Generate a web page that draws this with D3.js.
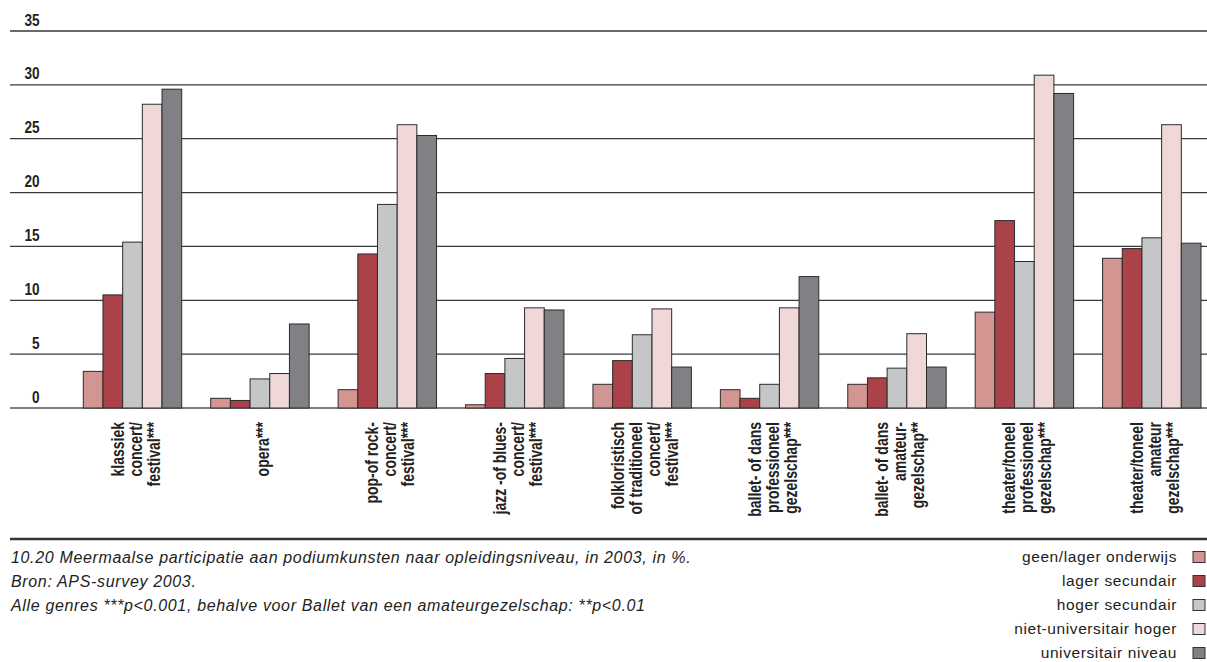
<!DOCTYPE html>
<html>
<head>
<meta charset="utf-8">
<script src="https://cdn.jsdelivr.net/npm/d3@7"></script>
<style>
  html, body { margin: 0; padding: 0; background: #fff; }
  svg { display: block; }
  .boldc { font-family: "Liberation Sans", Arial, sans-serif; font-weight: bold; }
</style>
</head>
<body>
<svg id="chart" width="1207" height="662"></svg>
<script>
// ---- data ----
const categories = [
  "klassiek|concert/|festival***",
  "opera***",
  "pop-of rock-|concert/|festival***",
  "jazz -of blues-|concert/|festival***",
  "folkloristisch|of traditioneel|concert/|festival***",
  "ballet- of dans|professioneel|gezelschap***",
  "ballet- of dans|amateur-|gezelschap**",
  "theater/toneel|professioneel|gezelschap***",
  "theater/toneel|amateur|gezelschap***"
];
const seriesNames = ["geen/lager onderwijs", "lager secundair", "hoger secundair", "niet-universitair hoger", "universitair niveau"];
const geenLager      = [3.4, 0.9, 1.7, 0.3, 2.2, 1.7, 2.2, 8.9, 13.9];
const lagerSecundair = [10.5, 0.7, 14.3, 3.2, 4.4, 0.9, 2.8, 17.4, 14.8];
const hogerSecundair = [15.4, 2.7, 18.9, 4.6, 6.8, 2.2, 3.7, 13.6, 15.8];
const nietUnivHoger  = [28.2, 3.2, 26.3, 9.3, 9.2, 9.3, 6.9, 30.9, 26.3];
const universitair   = [29.6, 7.8, 25.3, 9.1, 3.8, 12.2, 3.8, 29.2, 15.3];
const yTicks = [0, 5, 10, 15, 20, 25, 30, 35];
const footerLines = [
  "10.20  Meermaalse participatie aan podiumkunsten naar opleidingsniveau, in 2003, in %.",
  "Bron: APS-survey 2003.",
  "Alle genres ***p<0.001, behalve voor Ballet van een amateurgezelschap: **p<0.01"
];

const seriesValues = [geenLager, lagerSecundair, hogerSecundair, nietUnivHoger, universitair];
const colors = ["#d39591", "#ab4249", "#c5c6c8", "#f0d8d8", "#818085"];

const svg = d3.select("#chart");

const y = d3.scaleLinear().domain([0, 35]).range([408, 31]);
const x = d3.scaleBand().domain(categories).range([83.3, 1201]).paddingInner(0.2276).paddingOuter(0);
const xs = d3.scaleBand().domain(seriesNames).range([0, x.bandwidth()]).padding(0);

// gridlines
svg.append("g").selectAll("line").data(yTicks.filter(d => d > 0)).join("line")
  .attr("x1", 10).attr("x2", 1207)
  .attr("y1", d => y(d)).attr("y2", d => y(d))
  .attr("stroke", "#3a3a3a").attr("stroke-width", 1.3);

// tick labels (condensed look via horizontal scale)
svg.append("g").selectAll("text").data(yTicks).join("text")
  .attr("class", "boldc")
  .attr("transform", d => `translate(39.5,${y(d) - 5.5}) scale(0.8,1)`)
  .attr("text-anchor", "end")
  .attr("font-size", 17)
  .attr("fill", "#222")
  .text(d => d);

// baseline
svg.append("line").attr("x1", 10).attr("x2", 1207).attr("y1", y(0)).attr("y2", y(0))
  .attr("stroke", "#808080").attr("stroke-width", 2);

// bars
const groups = svg.append("g").selectAll("g").data(categories).join("g")
  .attr("transform", d => `translate(${x(d)},0)`);
groups.selectAll("rect").data((c, i) => seriesNames.map((s, j) => ({s, j, v: seriesValues[j][i]}))).join("rect")
  .attr("x", d => xs(d.s)).attr("width", xs.bandwidth())
  .attr("y", d => y(d.v)).attr("height", d => y(0) - y(d.v))
  .attr("fill", d => colors[d.j])
  .attr("stroke", "#2b2b2b").attr("stroke-width", 1);

// category labels
const lineGap = 18;
categories.forEach(c => {
  const lines = c.split("|");
  const cx = x(c) + x.bandwidth() / 2 + 3;
  lines.forEach((t, k) => {
    const lx = cx + (k - (lines.length - 1) / 2) * lineGap;
    svg.append("text")
      .attr("class", "boldc")
      .attr("transform", `translate(${lx},422) rotate(-90) scale(0.8,1)`)
      .attr("text-anchor", "end")
      .attr("dominant-baseline", "central")
      .attr("font-size", 17.5)
      .attr("fill", "#222")
      .text(t);
  });
});

// separator
svg.append("line").attr("x1", 10).attr("x2", 1207).attr("y1", 539).attr("y2", 539)
  .attr("stroke", "#333").attr("stroke-width", 2.5);

// footer
const foot = svg.append("g").selectAll("text").data(footerLines).join("text")
  .attr("x", 11).attr("y", (d, i) => 563 + i * 24)
  .attr("font-family", "'Liberation Sans', Arial, sans-serif")
  .attr("font-style", "italic").attr("font-size", 16)
  .attr("fill", "#222")
  .text(d => d);
const w0 = foot.node().getComputedTextLength();
const ls = Math.max(0, (681 - w0) / footerLines[0].length);
foot.attr("letter-spacing", ls);

// legend
const leg = svg.append("g").selectAll("g").data(seriesNames).join("g")
  .attr("transform", (d, i) => `translate(0,${557 + i * 24})`);
leg.append("text")
  .attr("x", 1177).attr("y", 0).attr("dy", "0.35em")
  .attr("text-anchor", "end")
  .attr("font-family", "'Liberation Sans', Arial, sans-serif")
  .attr("font-size", 15.5).attr("letter-spacing", 0.6)
  .attr("fill", "#222")
  .text(d => d);
leg.append("rect")
  .attr("x", 1193).attr("y", -5.5).attr("width", 12).attr("height", 11)
  .attr("fill", (d, i) => colors[i]).attr("stroke", "#333").attr("stroke-width", 1);
</script>
</body>
</html>
